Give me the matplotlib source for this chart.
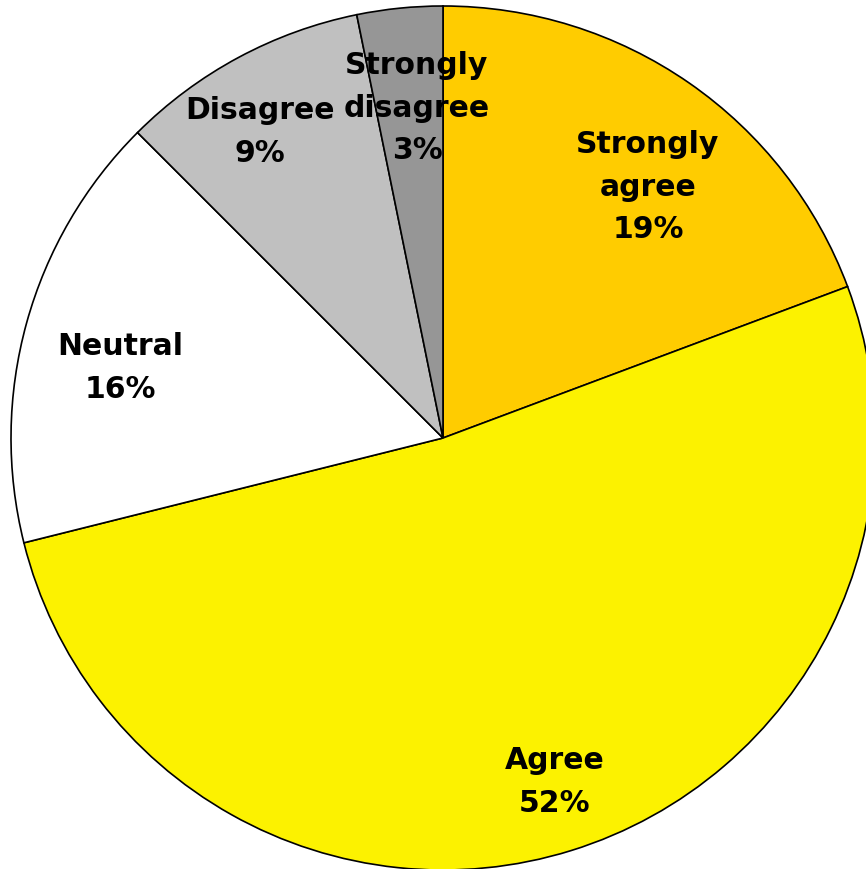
import numpy as np
import matplotlib
matplotlib.use('Agg')
import matplotlib.pyplot as plt

# 回答の内訳
categories = ['Strongly\nagree', 'Agree', 'Neutral', 'Disagree', 'Strongly\ndisagree']
shares = [19.3, 51.8, 16.4, 9.3, 3.2]
colors = ['#FFCC00', '#FCF200', '#FFFFFF', '#C0C0C0', '#969696']
# ラベル位置（半径比, 角度オフセット）
label_dist = [0.75, 0.837, 0.765, 0.825, 0.766]
label_shift = [-4.5, 0.75, 3.25, 2.6, -1.26]

W, H = 866, 869
fig = plt.figure(figsize=(W / 100, H / 100), dpi=100)
ax = fig.add_axes([0, 0, 1, 1])

cx, cy, R = 443, H - 438, 432
wedges, _ = ax.pie(shares, colors=colors, startangle=90, counterclock=False,
                   center=(cx, cy), radius=R,
                   wedgeprops=dict(edgecolor='black', linewidth=1.2))

for w, name, val, d, s in zip(wedges, categories, shares, label_dist, label_shift):
    mid = np.deg2rad((w.theta1 + w.theta2) / 2 + s)
    x = cx + d * R * np.cos(mid)
    y = cy + d * R * np.sin(mid)
    ax.text(x, y, f'{name}\n{round(val)}%', ha='center', va='center',
            fontsize=21.5, fontweight='bold', family='DejaVu Sans',
            linespacing=1.6)

ax.set_xlim(0, W)
ax.set_ylim(0, H)
ax.set_aspect('equal')
ax.axis('off')

fig.savefig('out.png', dpi=100, facecolor='white')
